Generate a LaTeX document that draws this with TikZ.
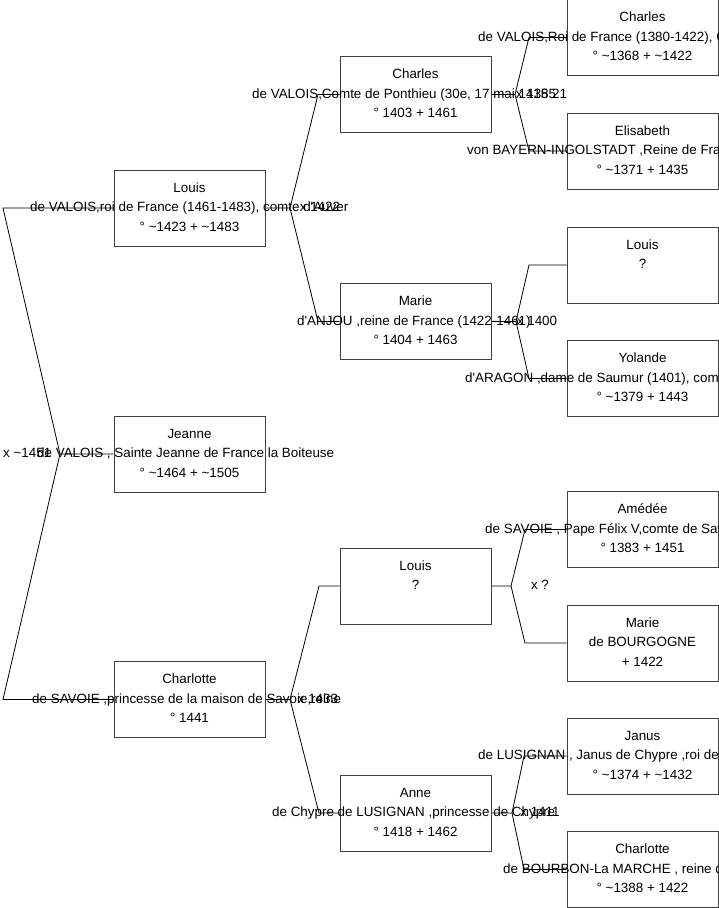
\documentclass[tikz,border=0pt]{standalone}
\usepackage{fontspec}
\setmainfont{Liberation Sans}[Ligatures=TeXOff]
\begin{document}
\begin{tikzpicture}[x=1pt,y=-1pt,
  person/.style={draw=black!75, line width=1pt, rectangle, minimum width=151pt, minimum height=76pt, inner sep=0pt},
  txt/.style={font=\fontsize{13.4}{15}\selectfont, inner sep=0pt, anchor=base},
  ltxt/.style={txt, anchor=base west},
  link/.style={draw=black, line width=0.8pt}]
\useasboundingbox (0,0) rectangle (719,908);

% ---------- column 1 ----------
\node[person] (louisA) at (189.5,208) {};
\node[txt]  (louisA1) at (189.5,192) {Louis};
\node[ltxt] (louisA2) at (30,211.5) {de VALOIS,roi de France (1461-1483), comte d'Auver};
\node[txt]  (louisA3) at (189.5,231) {° \textasciitilde1423 + \textasciitilde1483};

\node[person] (jeanne) at (189.5,454) {};
\node[txt]  (jeanne1) at (189.5,438) {Jeanne};
\node[ltxt] (jeanne2) at (37,457.5) {de VALOIS ,  Sainte Jeanne de France la Boiteuse};
\node[txt]  (jeanne3) at (189.5,477) {° \textasciitilde1464 + \textasciitilde1505};

\node[person] (charlotteA) at (189.5,699.5) {};
\node[txt]  (charlotteA1) at (189.5,683.5) {Charlotte};
\node[ltxt] (charlotteA2) at (32,703) {de SAVOIE ,princesse de la maison de Savoie,reine};
\node[txt]  (charlotteA3) at (189.5,722.5) {° 1441};

% ---------- column 2 ----------
\node[person] (charlesB) at (415.5,94.5) {};
\node[txt]  (charlesB1) at (415.5,78.5) {Charles};
\node[ltxt] (charlesB2) at (252,98) {de VALOIS,Comte de Ponthieu (30e, 17 mai 1415 21};
\node[txt]  (charlesB3) at (415.5,117.5) {° 1403 + 1461};

\node[person] (marieB) at (415.5,321.5) {};
\node[txt]  (marieB1) at (415.5,305.5) {Marie};
\node[ltxt] (marieB2) at (297,325) {d'ANJOU ,reine de France (1422-1461)};
\node[txt]  (marieB3) at (415.5,344.5) {° 1404 + 1463};

\node[person] (louisB) at (415.5,586) {};
\node[txt]  (louisB1) at (415.5,570) {Louis};
\node[txt]  (louisB2) at (415.5,589.5) {?};

\node[person] (anneB) at (415.5,813) {};
\node[txt]  (anneB1) at (415.5,797) {Anne};
\node[ltxt] (anneB2) at (272,816.5) {de Chypre de LUSIGNAN ,princesse de Chypre};
\node[txt]  (anneB3) at (415.5,836) {° 1418 + 1462};

% ---------- column 3 ----------
\node[person] (charlesC) at (642.5,37.5) {};
\node[txt]  (charlesC1) at (642.5,21.5) {Charles};
\node[ltxt] (charlesC2) at (478,41) {de VALOIS,Roi de France (1380-1422), C};
\node[txt]  (charlesC3) at (642.5,60.5) {° \textasciitilde1368 + \textasciitilde1422};

\node[person] (elisabethC) at (642.5,151) {};
\node[txt]  (elisabethC1) at (642.5,135) {Elisabeth};
\node[ltxt] (elisabethC2) at (467,154.5) {von BAYERN-INGOLSTADT ,Reine de Fra};
\node[txt]  (elisabethC3) at (642.5,174) {° \textasciitilde1371 + 1435};

\node[person] (louisC) at (642.5,265) {};
\node[txt]  (louisC1) at (642.5,249) {Louis};
\node[txt]  (louisC2) at (642.5,268.5) {?};

\node[person] (yolandeC) at (642.5,378.5) {};
\node[txt]  (yolandeC1) at (642.5,362.5) {Yolande};
\node[ltxt] (yolandeC2) at (465,382) {d'ARAGON ,dame de Saumur (1401), com};
\node[txt]  (yolandeC3) at (642.5,401.5) {° \textasciitilde1379 + 1443};

\node[person] (amedeeC) at (642.5,529.5) {};
\node[txt]  (amedeeC1) at (642.5,513.5) {Amédée};
\node[ltxt] (amedeeC2) at (485,533) {de SAVOIE , Pape Félix V,comte de Sav};
\node[txt]  (amedeeC3) at (642.5,552.5) {° 1383 + 1451};

\node[person] (marieC) at (642.5,643) {};
\node[txt]  (marieC1) at (642.5,627) {Marie};
\node[txt]  (marieC2) at (642.5,646.5) {de BOURGOGNE};
\node[txt]  (marieC3) at (642.5,666) {+ 1422};

\node[person] (janusC) at (642.5,756) {};
\node[txt]  (janusC1) at (642.5,740) {Janus};
\node[ltxt] (janusC2) at (478,759.5) {de LUSIGNAN , Janus de Chypre ,roi de};
\node[txt]  (janusC3) at (642.5,779) {° \textasciitilde1374 + \textasciitilde1432};

\node[person] (charlotteC) at (642.5,869.5) {};
\node[txt]  (charlotteC1) at (642.5,853.5) {Charlotte};
\node[ltxt] (charlotteC2) at (503,873) {de BOURBON-La MARCHE , reine d};
\node[txt]  (charlotteC3) at (642.5,892.5) {° \textasciitilde1388 + 1422};

% ---------- junctions ----------
\coordinate (j0) at (60,454);
\coordinate (j0a) at (3,208);
\coordinate (j0b) at (3,699.5);

\coordinate (j1) at (290,208);
\coordinate (j1a) at (318,94.5);
\coordinate (j1b) at (318,321.5);

\coordinate (j2) at (290,699.5);
\coordinate (j2a) at (319,586);
\coordinate (j2b) at (319,813);

\coordinate (j3) at (515,94.5);
\coordinate (j3a) at (529,37.5);
\coordinate (j3b) at (529,151);

\coordinate (j4) at (516,321.5);
\coordinate (j4a) at (529,265);
\coordinate (j4b) at (529,378.5);

\coordinate (j5) at (511,586);
\coordinate (j5a) at (525,529.5);
\coordinate (j5b) at (525,643);

\coordinate (j6) at (512,813);
\coordinate (j6a) at (524,756);
\coordinate (j6b) at (524,869.5);

% ---------- connectors ----------
\draw[link] (jeanne.west) -- (j0) -- (j0a) -- (louisA.west);
\draw[link] (j0) -- (j0b) -- (charlotteA.west);

\draw[link] (louisA.east) -- (j1) -- (j1a) -- (charlesB.west);
\draw[link] (j1) -- (j1b) -- (marieB.west);

\draw[link] (charlotteA.east) -- (j2) -- (j2a) -- (louisB.west);
\draw[link] (j2) -- (j2b) -- (anneB.west);

\draw[link] (charlesB.east) -- (j3) -- (j3a) -- (charlesC.west);
\draw[link] (j3) -- (j3b) -- (elisabethC.west);

\draw[link] (marieB.east) -- (j4) -- (j4a) -- (louisC.west);
\draw[link] (j4) -- (j4b) -- (yolandeC.west);

\draw[link] (louisB.east) -- (j5) -- (j5a) -- (amedeeC.west);
\draw[link] (j5) -- (j5b) -- (marieC.west);

\draw[link] (anneB.east) -- (j6) -- (j6a) -- (janusC.west);
\draw[link] (j6) -- (j6b) -- (charlotteC.west);

% ---------- marriage labels ----------
\node[ltxt] (m0) at (3,457.5) {x \textasciitilde1451};
\node[txt]  (m1) at (320,211.5) {x 1422};
\node[txt]  (m2) at (318,703) {x 1433};
\node[txt]  (m3) at (536,98) {x 1385};
\node[txt]  (m4) at (537,325) {x 1400};
\node[txt]  (m5) at (540,589) {x ?};
\node[txt]  (m6) at (540,816.5) {x 1411};
\end{tikzpicture}
\end{document}
